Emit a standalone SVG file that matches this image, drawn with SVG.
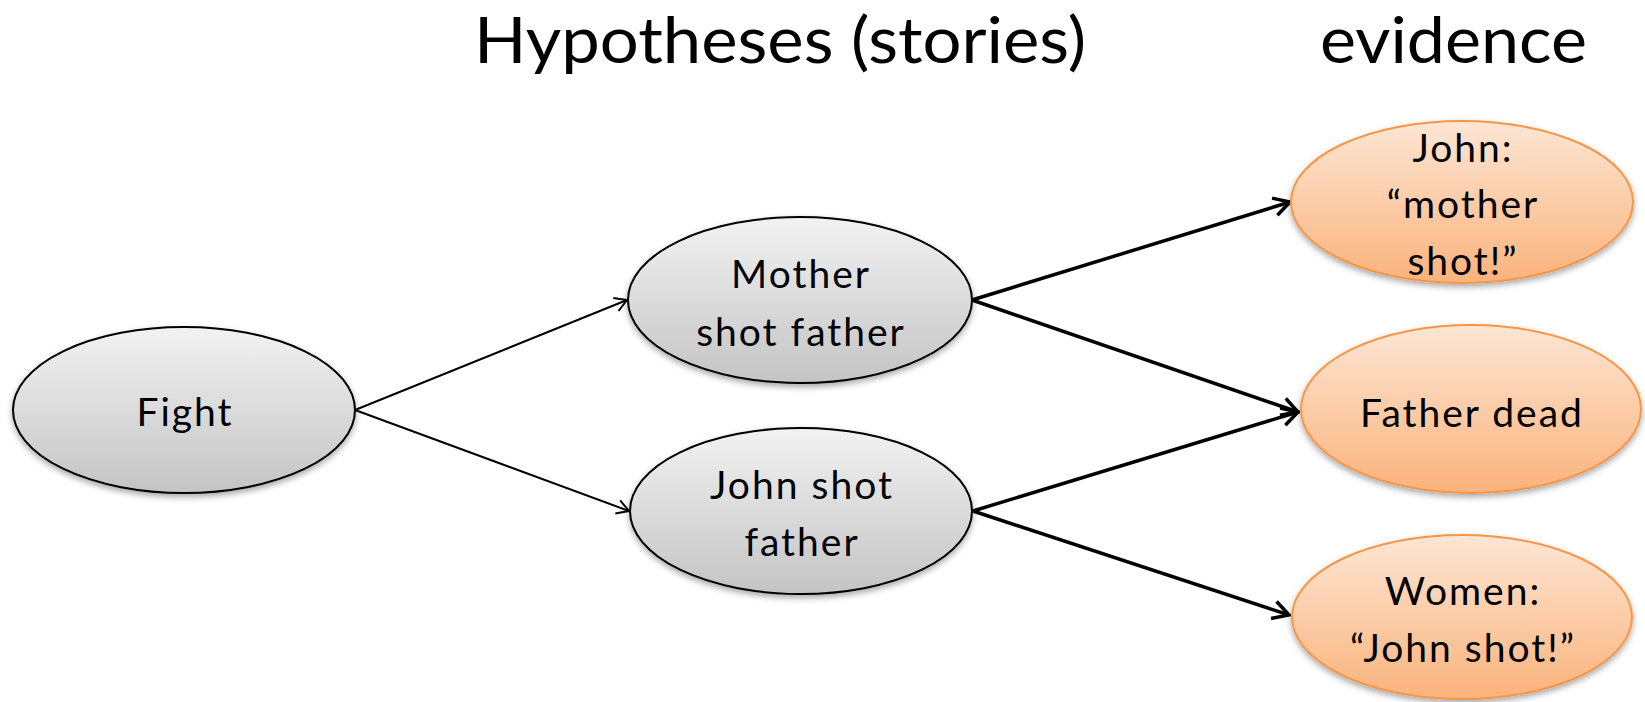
<svg xmlns="http://www.w3.org/2000/svg" width="1645" height="702" viewBox="0 0 1645 702">
  <style>
    .lbl { font-family: Lato, "Open Sans", "Liberation Sans", sans-serif; font-size: 39px; letter-spacing: 2px; fill: #000; text-anchor: middle; }
    .head { font-family: Lato, "Open Sans", "Liberation Sans", sans-serif; font-size: 64px; fill: #000; }
    .hyp { fill: url(#gGray); stroke: #000; stroke-width: 2; filter: url(#shadow); }
    .evi { fill: url(#gOrange); stroke: #F79646; stroke-width: 2; filter: url(#shadow); }
    .thin { stroke: #000; stroke-width: 2; fill: none; marker-end: url(#arrSmall); }
    .thick { stroke: #000; stroke-width: 3.5; fill: none; marker-end: url(#arrBig); }
  </style>
  <defs>
    <linearGradient id="gGray" x1="0" y1="0" x2="0" y2="1">
      <stop offset="0" stop-color="#f2f2f2"/>
      <stop offset="1" stop-color="#c4c4c4"/>
    </linearGradient>
    <linearGradient id="gOrange" x1="0" y1="0" x2="0" y2="1">
      <stop offset="0" stop-color="#fde6d4"/>
      <stop offset="1" stop-color="#fab37c"/>
    </linearGradient>
    <filter id="shadow" x="-10%" y="-10%" width="120%" height="130%">
      <feGaussianBlur in="SourceAlpha" stdDeviation="3"/>
      <feOffset dx="0" dy="3" result="b"/>
      <feComponentTransfer><feFuncA type="linear" slope="0.35"/></feComponentTransfer>
      <feMerge><feMergeNode/><feMergeNode in="SourceGraphic"/></feMerge>
    </filter>
    <marker id="arrSmall" markerUnits="userSpaceOnUse" viewBox="0 0 14 16" refX="13" refY="8" markerWidth="14" markerHeight="16" orient="auto">
      <path d="M1,1 L13,8 L1,15" fill="none" stroke="#000" stroke-width="2"/>
    </marker>
    <marker id="arrBig" markerUnits="userSpaceOnUse" viewBox="0 0 20 22" refX="18" refY="11" markerWidth="20" markerHeight="22" orient="auto">
      <path d="M2,2 L18,11 L2,20" fill="none" stroke="#000" stroke-width="3.5"/>
    </marker>
  </defs>

  <rect width="1645" height="702" fill="#fff"/>

  <!-- column headings -->
  <text class="head" x="474" y="63" textLength="612" lengthAdjust="spacingAndGlyphs">Hypotheses (stories)</text>
  <text class="head" x="1320" y="63" textLength="267" lengthAdjust="spacingAndGlyphs">evidence</text>

  <!-- connectors -->
  <g id="edges">
    <line class="thin" x1="355" y1="410" x2="627" y2="300"/>
    <line class="thin" x1="355" y1="410" x2="629" y2="511"/>
    <line class="thick" x1="972" y1="300" x2="1290" y2="202"/>
    <line class="thick" x1="972" y1="300" x2="1298" y2="412"/>
    <line class="thick" x1="973" y1="511" x2="1298" y2="412"/>
    <line class="thick" x1="973" y1="511" x2="1289" y2="615"/>
  </g>

  <g id="fight">
    <ellipse class="hyp" cx="184" cy="410" rx="171" ry="83"/>
    <text class="lbl" x="185" y="426">Fight</text>
  </g>

  <g id="mother-shot-father">
    <ellipse class="hyp" cx="800" cy="300" rx="172" ry="83"/>
    <text class="lbl" x="801" y="288">Mother</text>
    <text class="lbl" x="801" y="346">shot father</text>
  </g>

  <g id="john-shot-father">
    <ellipse class="hyp" cx="801" cy="511" rx="171" ry="83"/>
    <text class="lbl" x="802" y="499">John shot</text>
    <text class="lbl" x="802" y="556">father</text>
  </g>

  <g id="john-says">
    <ellipse class="evi" cx="1462" cy="202" rx="171" ry="81"/>
    <text class="lbl" x="1463" y="162">John:</text>
    <text class="lbl" x="1463" y="218">“mother</text>
    <text class="lbl" x="1463" y="275">shot!”</text>
  </g>

  <g id="father-dead">
    <ellipse class="evi" cx="1471" cy="409" rx="170" ry="84"/>
    <text class="lbl" x="1472" y="427">Father dead</text>
  </g>

  <g id="women-say">
    <ellipse class="evi" cx="1462" cy="617" rx="170" ry="82"/>
    <text class="lbl" x="1463" y="605">Women:</text>
    <text class="lbl" x="1463" y="662">“John shot!”</text>
  </g>
</svg>
